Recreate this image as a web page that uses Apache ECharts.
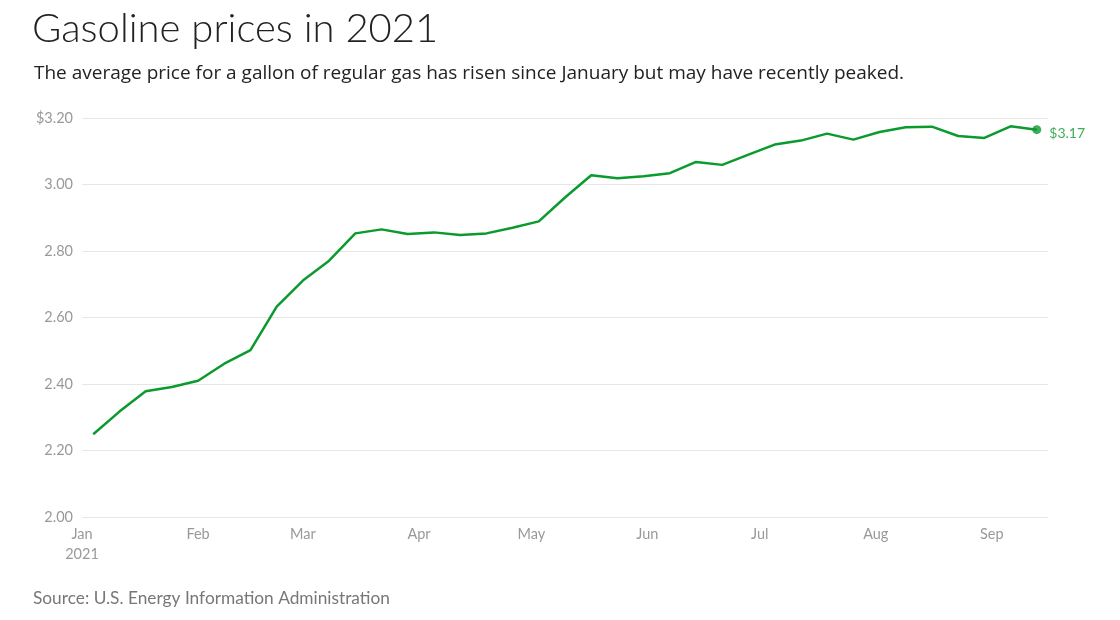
<!DOCTYPE html>
<html>
<head>
<meta charset="utf-8">
<script src="https://cdn.jsdelivr.net/npm/echarts@6/dist/echarts.min.js"></script>
<style>
  html, body { margin: 0; padding: 0; background: #fff; }
  #chart { width: 1120px; height: 620px; }
</style>
</head>
<body>
<div id="chart"></div>
<script>
// weekly US regular gasoline retail price, dollars per gallon
var weeks = [
  '2021-01-04', '2021-01-11', '2021-01-18', '2021-01-25', '2021-02-01', '2021-02-08',
  '2021-02-15', '2021-02-22', '2021-03-01', '2021-03-08', '2021-03-15', '2021-03-22',
  '2021-03-29', '2021-04-05', '2021-04-12', '2021-04-19', '2021-04-26', '2021-05-03',
  '2021-05-10', '2021-05-17', '2021-05-24', '2021-05-31', '2021-06-07', '2021-06-14',
  '2021-06-21', '2021-06-28', '2021-07-05', '2021-07-12', '2021-07-19', '2021-07-26',
  '2021-08-02', '2021-08-09', '2021-08-16', '2021-08-23', '2021-08-30', '2021-09-06',
  '2021-09-13'
];
var prices = [
  2.249, 2.317, 2.378, 2.391, 2.410, 2.461,
  2.502, 2.633, 2.711, 2.771, 2.853, 2.865,
  2.851, 2.856, 2.848, 2.853, 2.870, 2.889,
  2.961, 3.028, 3.019, 3.025, 3.034, 3.068,
  3.059, 3.090, 3.120, 3.132, 3.153, 3.135,
  3.158, 3.172, 3.174, 3.146, 3.140, 3.175,
  3.165
];
var monthNames = ['Jan', 'Feb', 'Mar', 'Apr', 'May', 'Jun', 'Jul', 'Aug', 'Sep', 'Oct', 'Nov', 'Dec'];

var green = '#0b9a2d';
var lineData = weeks.map(function (d, i) { return [d, prices[i]]; });
var last = lineData[lineData.length - 1];

var myChart = echarts.init(document.getElementById('chart'));

myChart.setOption({
  backgroundColor: '#fff',
  animation: false,
  title: [{
    text: 'Gasoline prices in 2021',
    left: 27,
    top: 4,
    textStyle: { fontFamily: 'Lato', fontWeight: 300, fontSize: 40, color: '#222' }
  }, {
    text: 'The average price for a gallon of regular gas has risen since January but may have recently peaked.',
    left: 29,
    top: 59,
    textStyle: { fontFamily: 'Open Sans', fontWeight: 400, fontSize: 19, color: '#222' }
  }, {
    text: 'Source: U.S. Energy Information Administration',
    left: 28,
    top: 585,
    textStyle: { fontFamily: 'Lato', fontWeight: 400, fontSize: 17.3, color: '#777' }
  }],
  grid: { left: 82, right: 72, top: 118, bottom: 103, containLabel: false },
  xAxis: {
    type: 'time',
    min: '2021-01-01',
    max: '2021-09-16',
    minInterval: 28 * 86400000,
    maxInterval: 31 * 86400000,
    axisLine: { show: false },
    axisTick: { show: false },
    splitLine: { show: false },
    axisLabel: {
      color: '#999',
      fontFamily: 'Lato',
      fontSize: 14.5,
      margin: 7,
      lineHeight: 20,
      hideOverlap: false,
      formatter: function (value) {
        var d = new Date(value);
        var m = d.getMonth();
        return m === 0 ? monthNames[m] + '\n' + d.getFullYear() : monthNames[m];
      }
    }
  },
  yAxis: {
    type: 'value',
    min: 2,
    max: 3.2,
    interval: 0.2,
    axisLine: { show: false },
    axisTick: { show: false },
    splitLine: { lineStyle: { color: '#e6e6e6', width: 1 } },
    axisLabel: {
      color: '#999',
      fontFamily: 'Lato',
      fontSize: 14.5,
      margin: 9,
      formatter: function (v) {
        return Math.abs(v - 3.2) < 1e-6 ? '$3.20' : v.toFixed(2);
      }
    }
  },
  series: [{
    type: 'line',
    data: lineData,
    showSymbol: false,
    lineStyle: { color: green, width: 2.5 },
    itemStyle: { color: green }
  }, {
    type: 'scatter',
    data: [last],
    symbolSize: 9,
    itemStyle: { color: green },
    label: {
      show: true,
      position: 'right',
      distance: 8,
      offset: [0, 4],
      color: green,
      fontFamily: 'Lato',
      fontSize: 14,
      formatter: function (p) { return '$' + p.value[1].toFixed(2); }
    }
  }]
});
</script>
</body>
</html>
